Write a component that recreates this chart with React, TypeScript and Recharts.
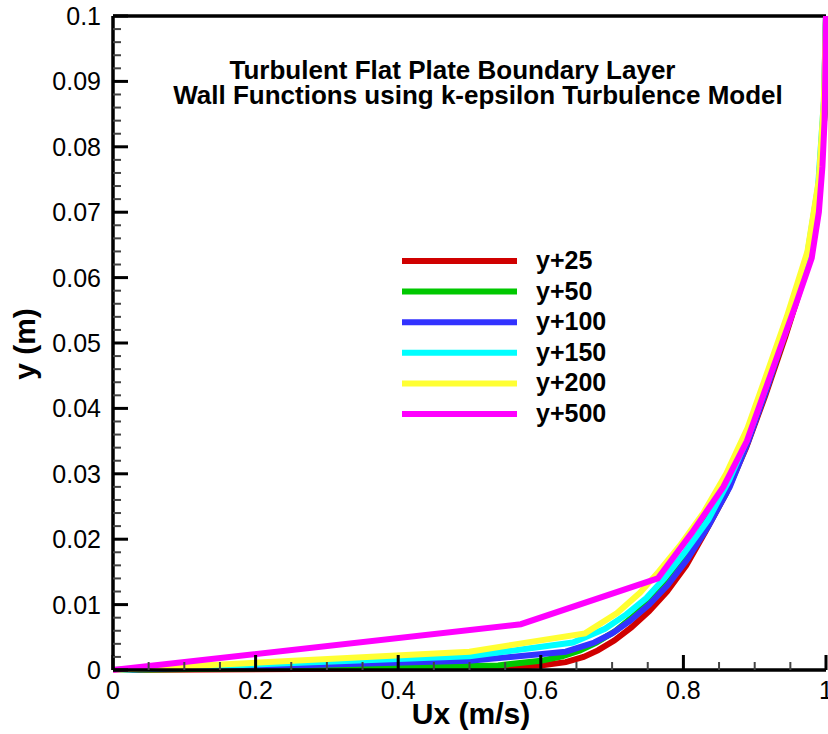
import React from 'react';
import { LineChart, Line, XAxis, YAxis, ReferenceLine, Legend } from 'recharts';

// velocity profiles, y (m) vs Ux (m/s)
const yp25Y = [0, 0.0003, 0.0007, 0.0012, 0.002, 0.003, 0.0045, 0.0065, 0.009, 0.012, 0.016, 0.021, 0.027, 0.034, 0.042, 0.051, 0.061, 0.072, 0.085, 0.1];
const yp25U = [0, 0.5, 0.6, 0.635, 0.66, 0.68, 0.703, 0.727, 0.752, 0.777, 0.804, 0.83, 0.86, 0.888, 0.915, 0.943, 0.972, 0.989, 0.998, 1.0];

const yp50Y = [0, 0.0007, 0.0014, 0.0021, 0.003, 0.0042, 0.006, 0.0085, 0.0115, 0.0155, 0.0205, 0.0265, 0.0335, 0.0415, 0.0505, 0.0605, 0.0715, 0.085, 0.1];
const yp50U = [0, 0.54, 0.6, 0.63, 0.655, 0.678, 0.705, 0.733, 0.76, 0.789, 0.82, 0.851, 0.883, 0.912, 0.94, 0.971, 0.989, 0.998, 1.0];

const yp100Y = [0, 0.0014, 0.0028, 0.0042, 0.0056, 0.0075, 0.01, 0.013, 0.017, 0.022, 0.028, 0.035, 0.043, 0.052, 0.062, 0.073, 0.086, 0.1];
const yp100U = [0, 0.5, 0.635, 0.675, 0.7, 0.725, 0.752, 0.778, 0.806, 0.835, 0.865, 0.891, 0.917, 0.944, 0.972, 0.989, 0.997, 1.0];

const yp150Y = [0, 0.0021, 0.0042, 0.0063, 0.0085, 0.011, 0.014, 0.018, 0.023, 0.029, 0.036, 0.044, 0.053, 0.063, 0.074, 0.087, 0.1];
const yp150U = [0, 0.5, 0.645, 0.69, 0.72, 0.748, 0.773, 0.802, 0.835, 0.864, 0.892, 0.918, 0.945, 0.973, 0.989, 0.997, 1.0];

const yp200Y = [0, 0.0028, 0.0056, 0.0087, 0.0118, 0.015, 0.019, 0.024, 0.03, 0.037, 0.045, 0.054, 0.064, 0.075, 0.087, 0.1];
const yp200U = [0, 0.5, 0.662, 0.707, 0.739, 0.765, 0.795, 0.828, 0.86, 0.89, 0.916, 0.945, 0.974, 0.99, 0.997, 1.0];

const yp500Y = [0, 0.007, 0.014, 0.021, 0.028, 0.035, 0.042, 0.049, 0.056, 0.063, 0.07, 0.077, 0.084, 0.091, 0.1];
const yp500U = [0, 0.572, 0.764, 0.812, 0.856, 0.889, 0.912, 0.935, 0.958, 0.98, 0.99, 0.995, 0.998, 0.999, 1.0];

const names = ['y+25', 'y+50', 'y+100', 'y+150', 'y+200', 'y+500'];
const colors = ['#d00000', '#00c800', '#3232ff', '#00ffff', '#ffff33', '#ff00ff'];

const xTicks = Array.from({ length: 21 }, (_, i) => +(i * 0.05).toFixed(2));
const yTicks = Array.from({ length: 51 }, (_, i) => +(i * 0.002).toFixed(3));

const toPoints = (ys: number[], us: number[]) => ys.map((y, i) => ({ u: us[i], y }));

const series = [
  toPoints(yp25Y, yp25U),
  toPoints(yp50Y, yp50U),
  toPoints(yp100Y, yp100U),
  toPoints(yp150Y, yp150U),
  toPoints(yp200Y, yp200U),
  toPoints(yp500Y, yp500U),
].map((data, i) => ({ name: names[i], color: colors[i], data }));

const font = "'Liberation Sans', Arial, sans-serif";

const XTick = (props: any) => {
  const { x, y, payload } = props;
  const v = payload.value;
  const major = Math.round(v * 100) % 20 === 0;
  return (
    <g>
      <line x1={x} x2={x} y1={y} y2={y - (major ? 15 : 8)} stroke={major ? '#000' : '#444'} strokeWidth={major ? 3 : 2} />
      {major && (
        <text x={x} y={y + 29} textAnchor="middle" fontSize={25} fontFamily={font} fill="#000">
          {String(v)}
        </text>
      )}
    </g>
  );
};

const YTick = (props: any) => {
  const { x, y, payload } = props;
  const v = payload.value;
  const major = Math.round(v * 1000) % 10 === 0;
  return (
    <g>
      <line x1={x} x2={x + (major ? 15 : 8)} y1={y} y2={y} stroke={major ? '#000' : '#444'} strokeWidth={major ? 3 : 2} />
      {major && (
        <text x={x - 12} y={y + 9} textAnchor="end" fontSize={25} fontFamily={font} fill="#000">
          {String(v)}
        </text>
      )}
    </g>
  );
};

const LegendBox = () => (
  <svg width={240} height={190} style={{ display: 'block' }}>
    {series.map((s, i) => {
      const cy = 21 + i * 30.6;
      return (
        <g key={s.name}>
          <line x1={0} x2={115} y1={cy} y2={cy} stroke={s.color} strokeWidth={6} />
          <text x={134} y={cy + 8} fontSize={25} fontWeight="bold" fontFamily={font} fill="#000">
            {s.name}
          </text>
        </g>
      );
    })}
  </svg>
);

export default function App() {
  return (
    <div style={{ position: 'fixed', left: 0, top: 0, width: 828, height: 734, overflow: 'hidden', background: '#fff' }}>
      <LineChart width={828} height={734} margin={{ top: 16, right: 2, bottom: 24, left: 53 }} style={{ display: 'block' }}>
        <XAxis
          type="number"
          dataKey="u"
          domain={[0, 1]}
          ticks={xTicks}
          interval={0}
          tickSize={0}
          tickMargin={0}
          tickLine={false}
          tick={<XTick />}
          height={40}
          axisLine={{ stroke: '#000', strokeWidth: 3.5 }}
        />
        <YAxis
          type="number"
          dataKey="y"
          domain={[0, 0.1]}
          ticks={yTicks}
          interval={0}
          tickSize={0}
          tickMargin={0}
          tickLine={false}
          tick={<YTick />}
          width={60}
          axisLine={{ stroke: '#000', strokeWidth: 3.5 }}
        />
        <ReferenceLine y={0.1} stroke="#000" strokeWidth={3.5} />
        {series.map((s) => (
          <Line
            key={s.name}
            data={s.data}
            dataKey="y"
            name={s.name}
            type="linear"
            stroke={s.color}
            strokeWidth={6}
            dot={false}
            activeDot={false}
            isAnimationActive={false}
          />
        ))}
        <Legend
          layout="vertical"
          align="center"
          verticalAlign="middle"
          content={<LegendBox />}
          wrapperStyle={{ left: 402, top: 240, width: 240, height: 190 }}
        />
      </LineChart>
      <svg width={828} height={734} style={{ position: 'absolute', left: 0, top: 0, pointerEvents: 'none' }}>
        <text x={452.5} y={79} textAnchor="middle" fontSize={26} fontWeight="bold" fontFamily={font}>
          Turbulent Flat Plate Boundary Layer
        </text>
        <text x={478} y={104} textAnchor="middle" fontSize={26} fontWeight="bold" fontFamily={font}>
          Wall Functions using k-epsilon Turbulence Model
        </text>
        <text x={471} y={724} textAnchor="middle" fontSize={30} fontWeight="bold" fontFamily={font}>
          Ux (m/s)
        </text>
        <text x={35} y={344} textAnchor="middle" fontSize={30} fontWeight="bold" fontFamily={font} transform="rotate(-90 35 344)">
          y (m)
        </text>
      </svg>
    </div>
  );
}
